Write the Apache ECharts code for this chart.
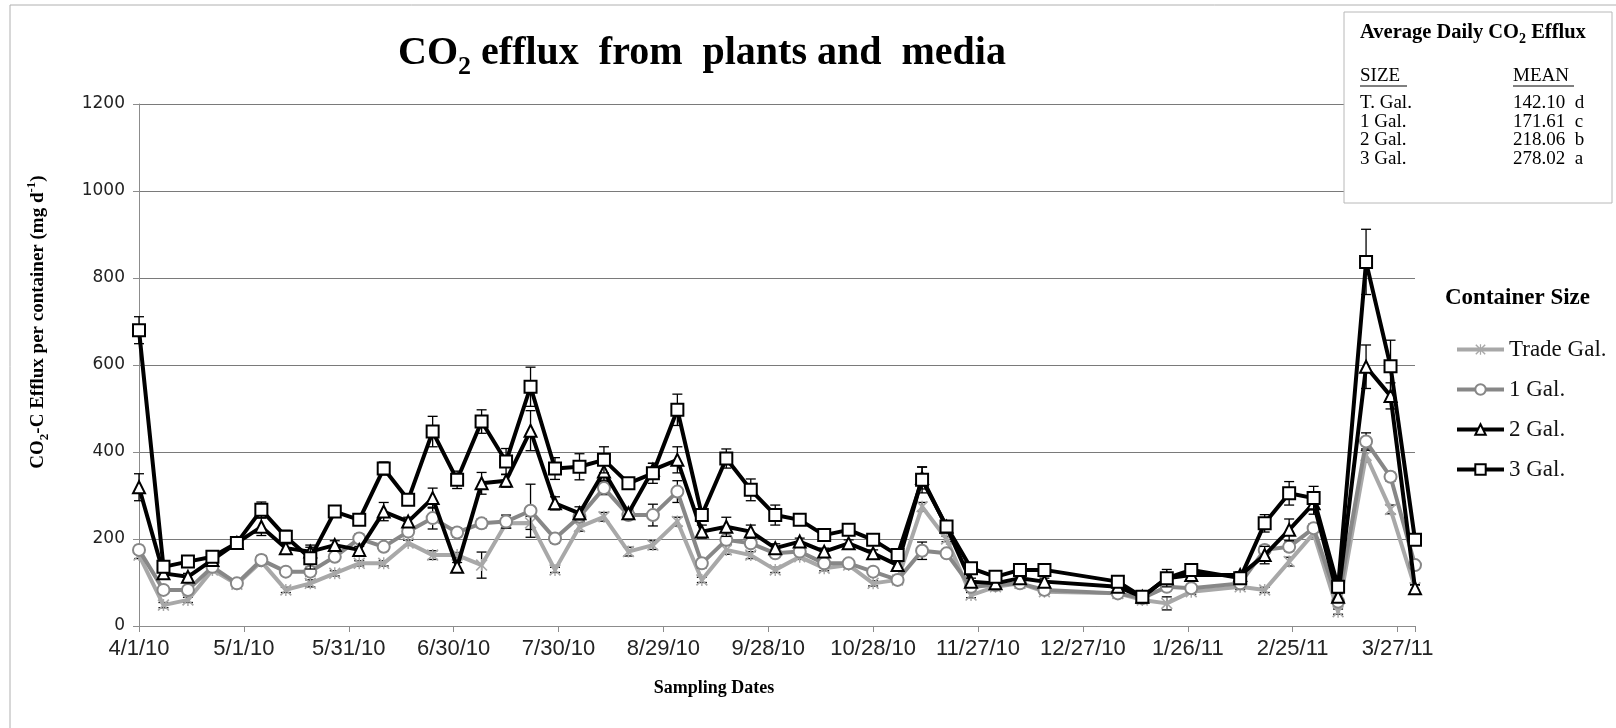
<!DOCTYPE html>
<html><head><meta charset="utf-8">
<script src="https://cdn.jsdelivr.net/npm/echarts@6/dist/echarts.min.js"></script>
<style>html,body{margin:0;padding:0;background:#fff}#c{width:1616px;height:728px}</style>
</head><body><div id="c"></div>
<script>
// ---- data ----
const sampleDates = ['2010-04-01','2010-04-08','2010-04-15','2010-04-22','2010-04-29','2010-05-06','2010-05-13','2010-05-20','2010-05-27','2010-06-03',
  '2010-06-10','2010-06-17','2010-06-24','2010-07-01','2010-07-08','2010-07-15','2010-07-22','2010-07-29','2010-08-05','2010-08-12',
  '2010-08-19','2010-08-26','2010-09-02','2010-09-09','2010-09-16','2010-09-23','2010-09-30','2010-10-07','2010-10-14','2010-10-21',
  '2010-10-28','2010-11-04','2010-11-11','2010-11-18','2010-11-25','2010-12-02','2010-12-09','2010-12-16',
  '2011-01-06','2011-01-13','2011-01-20','2011-01-27',
  '2011-02-10','2011-02-17','2011-02-24','2011-03-03','2011-03-10','2011-03-18','2011-03-25','2011-04-01'];
const tickLabels = ['4/1/10','5/1/10','5/31/10','6/30/10','7/30/10','8/29/10','9/28/10','10/28/10','11/27/10','12/27/10','1/26/11','2/25/11','3/27/11'];
const seriesNames = ['Trade Gal.','1 Gal.','2 Gal.','3 Gal.'];
const tradeGal = [163,48,60,129,96,148,83,98,121,144, 144,191,163,163,140,236,237,129,228,251, 171,186,240,106,175,163,129,159,133,140, 98,106,274,200,71,90,98,79, 75,60,52,79, 90,83,148,213,33,392,268,88];
const gal1 = [175,83,83,136,98,152,125,125,159,201, 182,217,248,215,236,240,265,201,251,317, 255,255,309,144,198,190,167,171,144,144, 125,106,173,167,90,94,98,83, 75,64,90,87, 98,175,182,225,56,424,343,140];
const gal2 = [319,121,113,152,191,228,179,171,186,175, 263,240,294,136,328,334,449,282,259,355, 259,359,382,217,228,217,179,194,171,190, 167,140,340,228,102,98,110,102, 90,67,110,117, 117,163,221,282,67,596,529,87];
const gal3 = [680,136,148,159,191,267,205,156,263,244, 362,290,447,336,470,378,550,362,366,382, 328,351,497,255,385,313,255,244,209,221, 198,163,336,229,133,113,129,129, 102,67,110,129, 110,236,305,294,90,837,597,198];
const tradeErr = [8,6,6,6,6,10,6,8,6,6, 6,6,10,6,30,10,15,6,10,10, 10,10,10,6,10,8,6,6,6,6, 6,6,10,6,6,6,6,6, 6,6,15,6, 6,6,10,10,6,15,10,6];
const gal1Err = [10,8,8,8,8,10,8,10,8,10, 8,8,25,10,10,15,61,10,10,15, 10,25,25,10,10,8,8,8,8,8, 8,8,20,8,6,6,6,6, 6,6,8,6, 6,10,10,10,6,20,10,8];
const gal2Err = [31,8,8,8,8,20,10,15,10,8, 21,10,23,10,25,15,46,15,15,20, 10,15,30,15,22,15,10,8,8,8, 8,8,25,10,8,8,8,8, 8,8,20,8, 8,20,25,25,8,50,30,8];
const gal3Err = [31,8,8,8,8,18,15,25,12,10, 15,8,35,20,27,30,45,25,30,30, 10,23,36,10,22,25,23,10,10,10, 10,10,30,12,8,8,8,8, 8,8,10,8, 8,20,27,27,10,75,60,10];
const insetSizes = ['T. Gal.','1 Gal.','2 Gal.','3 Gal.'];
const insetMeans = ['142.10  d','171.61  c','218.06  b','278.02  a'];

// ---- helpers ----
const start = Date.UTC(2010,3,1);
function dayOf(s){const p=s.split('-').map(Number);return Math.round((Date.UTC(p[0],p[1]-1,p[2])-start)/86400000);}
const days = sampleDates.map(dayOf);
const pts = arr => arr.map((v,i)=>[days[i],v]);
const errPts = (arr,err) => arr.map((v,i)=>[days[i],v,err[i]]);

const serif = 'Liberation Serif';
const asterisk = 'path://M0 1 L1 0 L10 9 L9 10 Z M9 0 L10 1 L1 10 L0 9 Z M4.4 0 L5.6 0 L5.6 10 L4.4 10 Z';
const styles = [
  {color:'#a8a8a8', symbol: asterisk, size: 12},
  {color:'#878787', symbol:'emptyCircle', size: 12},
  {color:'#000000', symbol:'emptyTriangle', size: 12},
  {color:'#000000', symbol:'emptyRect', size: 12}
];
const values = [tradeGal, gal1, gal2, gal3];
const errs = [tradeErr, gal1Err, gal2Err, gal3Err];

function errRender(params, api){
  const x = api.value(0), y = api.value(1), e = api.value(2);
  const top = api.coord([x, y+e]); const bot = api.coord([x, y-e]);
  const hw = 5;
  const st = {stroke:'#000', lineWidth:1.3};
  return {type:'group', children:[
    {type:'line', shape:{x1:top[0],y1:top[1],x2:bot[0],y2:bot[1]}, style:st},
    {type:'line', shape:{x1:top[0]-hw,y1:top[1],x2:top[0]+hw,y2:top[1]}, style:st},
    {type:'line', shape:{x1:bot[0]-hw,y1:bot[1],x2:bot[0]+hw,y2:bot[1]}, style:st}
  ]};
}

const series = [];
values.forEach((arr,i)=>{
  series.push({type:'custom', name:seriesNames[i]+' err', renderItem: errRender, data: errPts(arr, errs[i]), encode:{x:0,y:1}, z: 2+i*2, silent:true});
  series.push({type:'line', name:seriesNames[i], data: pts(arr), symbol: styles[i].symbol, symbolSize: styles[i].size,
    showAllSymbol:true, lineStyle:{color:styles[i].color, width:4}, itemStyle:{color:styles[i].color, borderWidth:1.5},
    z: 3+i*2, animation:false});
});

const chart = echarts.init(document.getElementById('c'), null, {renderer:'canvas'});
chart.setOption({
  backgroundColor:'#fff',
  animation:false,
  grid:{left:139, right:201, top:104, bottom:102},
  xAxis:{type:'value', min:0, max:365, interval:30,
    axisLine:{show:true, lineStyle:{color:'#8c8c8c', width:1}},
    axisTick:{show:true, length:6, lineStyle:{color:'#8c8c8c'}},
    splitLine:{show:false},
    axisLabel:{formatter: v => (v % 30 === 0 ? (tickLabels[v/30] || '') : ''), margin:12, fontFamily:'Liberation Sans', fontSize:22, color:'#222'}},
  yAxis:{type:'value', min:0, max:1200, interval:200,
    axisLine:{show:true, lineStyle:{color:'#8c8c8c', width:1}},
    axisTick:{show:true, length:6, lineStyle:{color:'#8c8c8c'}},
    splitLine:{show:true, lineStyle:{color:'#7a7a7a', width:1}},
    axisLabel:{formatter: v => String(v), margin:14, fontFamily:'DejaVu Sans', fontSize:17, color:'#222'}},
  legend:{data:seriesNames, orient:'vertical', left:1450, top:333, itemWidth:47, itemHeight:13, itemGap:17,
    lineStyle:{width:4}, textStyle:{fontFamily:serif, fontSize:23, color:'#111'}},
  graphic:[
    {type:'line', shape:{x1:10,y1:5,x2:1616,y2:5}, style:{stroke:'#b0b0b0', lineWidth:1}},
    {type:'line', shape:{x1:10,y1:5,x2:10,y2:728}, style:{stroke:'#b0b0b0', lineWidth:1}},
    {type:'text', x:702, y:54, style:{text:'{a|CO}{s|2}{a| efflux  from  plants and  media}', align:'center', verticalAlign:'middle', textAlign:'center', textVerticalAlign:'middle',
      rich:{a:{fontFamily:serif, fontWeight:'bold', fontSize:40, lineHeight:52, color:'#000'},
            s:{fontFamily:serif, fontWeight:'bold', fontSize:26, lineHeight:24, verticalAlign:'bottom', color:'#000'}}}},
    {type:'text', x:38, y:322, rotation:Math.PI/2, style:{text:'{a|CO}{s|2}{a|-C Efflux per container (mg d}{p|-1}{a|)}', align:'center', verticalAlign:'middle', textAlign:'center', textVerticalAlign:'middle',
      rich:{a:{fontFamily:serif, fontWeight:'bold', fontSize:19, lineHeight:26, color:'#000'},
            s:{fontFamily:serif, fontWeight:'bold', fontSize:13, lineHeight:13, verticalAlign:'bottom', color:'#000'},
            p:{fontFamily:serif, fontWeight:'bold', fontSize:13, lineHeight:13, verticalAlign:'top', color:'#000'}}}},
    {type:'text', x:714, y:688, style:{text:'Sampling Dates', fontFamily:serif, fontWeight:'bold', fontSize:18, fill:'#000', align:'center', verticalAlign:'middle', textAlign:'center', textVerticalAlign:'middle'}},
    {type:'text', x:1445, y:298, style:{text:'Container Size', fontFamily:serif, fontWeight:'bold', fontSize:23, fill:'#000', align:'left', verticalAlign:'middle', textAlign:'left', textVerticalAlign:'middle'}},
    {type:'rect', shape:{x:1344, y:12, width:268, height:191}, style:{fill:'#fff', stroke:'#b8b8b8', lineWidth:1}, z:10},
    {type:'text', x:1360, y:33, z:11, style:{text:'{a|Average Daily CO}{s|2}{a| Efflux}', align:'left', verticalAlign:'middle', textAlign:'left', textVerticalAlign:'middle',
      rich:{a:{fontFamily:serif, fontWeight:'bold', fontSize:20.5, lineHeight:26, color:'#000'},
            s:{fontFamily:serif, fontWeight:'bold', fontSize:14, lineHeight:14, verticalAlign:'bottom', color:'#000'}}}},
    {type:'text', x:1360, y:76, z:11, style:{text:'SIZE', fontFamily:serif, fontSize:19, fill:'#000', align:'left', verticalAlign:'middle', textAlign:'left', textVerticalAlign:'middle'}},
    {type:'line', z:11, shape:{x1:1360,y1:86,x2:1407,y2:86}, style:{stroke:'#000', lineWidth:1}},
    {type:'text', x:1513, y:76, z:11, style:{text:'MEAN', fontFamily:serif, fontSize:19, fill:'#000', align:'left', verticalAlign:'middle', textAlign:'left', textVerticalAlign:'middle'}},
    {type:'line', z:11, shape:{x1:1513,y1:86,x2:1574,y2:86}, style:{stroke:'#000', lineWidth:1}},
    {type:'text', x:1360, y:94, z:11, style:{text:insetSizes.join('\n'), lineHeight:18.5, fontFamily:serif, fontSize:19, fill:'#000', align:'left', verticalAlign:'top', textAlign:'left', textVerticalAlign:'top'}},
    {type:'text', x:1513, y:94, z:11, style:{text:insetMeans.join('\n'), lineHeight:18.5, fontFamily:serif, fontSize:19, fill:'#000', align:'left', verticalAlign:'top', textAlign:'left', textVerticalAlign:'top'}}
  ],
  series: series
});
</script></body></html>
